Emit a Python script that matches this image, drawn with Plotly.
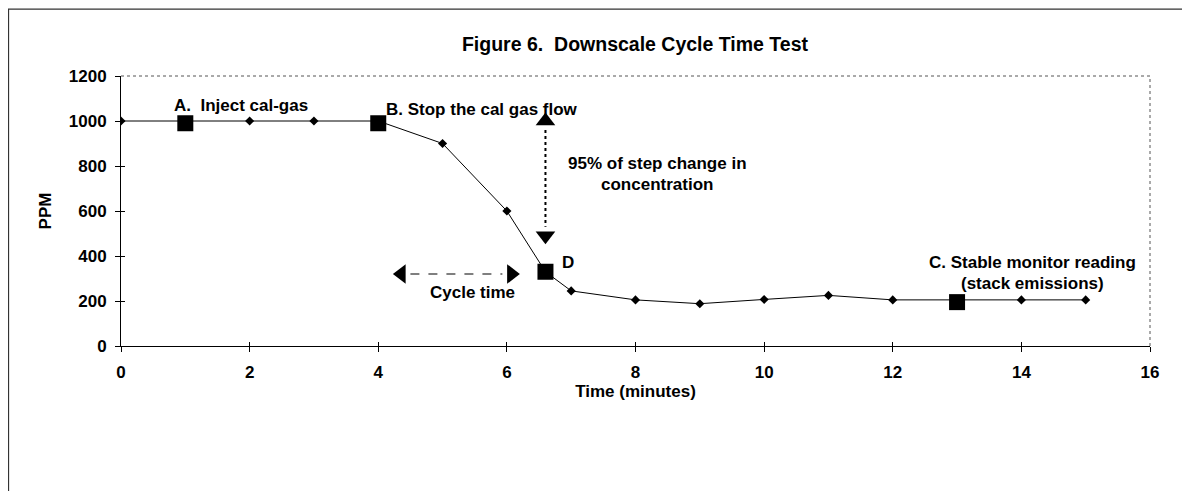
import plotly.graph_objects as go

# ---- data ----
time_min = [0, 1, 2, 3, 4, 5, 6, 6.6, 7, 8, 9, 10, 11, 12, 13, 14, 15]
ppm = [1000, 1000, 1000, 1000, 1000, 900, 600, 330, 245, 205, 188, 207, 225, 205, 205, 205, 205]

key_time = [1, 4, 6.6, 13]
key_ppm = [990, 990, 330, 195]

x_ticks = [0, 2, 4, 6, 8, 10, 12, 14, 16]
y_ticks = [0, 200, 400, 600, 800, 1000, 1200]

FONT = "Liberation Sans, Arial, sans-serif"

fig = go.Figure()

# main curve
fig.add_trace(go.Scatter(
    x=time_min, y=ppm, mode="lines+markers",
    line=dict(color="black", width=1),
    marker=dict(symbol="diamond", size=7, color="black"),
    showlegend=False, hoverinfo="x+y"))

# key points A, B, D, C
fig.add_trace(go.Scatter(
    x=key_time, y=key_ppm, mode="markers",
    marker=dict(symbol="square", size=16, color="black"),
    showlegend=False, hoverinfo="x+y"))

# arrow heads (annotation graphics)
fig.add_trace(go.Scatter(
    x=[6.6, 6.6], y=[1000, 490], mode="markers",
    marker=dict(symbol=["triangle-up", "triangle-down"], size=17, color="black"),
    showlegend=False, hoverinfo="skip"))
fig.add_trace(go.Scatter(
    x=[4.36, 6.07], y=[320, 320], mode="markers",
    marker=dict(symbol=["triangle-left", "triangle-right"], size=17, color="black"),
    showlegend=False, hoverinfo="skip"))

# dummy trace for the inside-tick overlay axes
fig.add_trace(go.Scatter(x=[0], y=[0], xaxis="x2", yaxis="y2", mode="markers",
                         marker=dict(opacity=0), showlegend=False, hoverinfo="skip"))

shapes = [
    # vertical dotted line
    dict(type="line", xref="x", yref="y", x0=6.6, x1=6.6, y0=960, y1=530,
         line=dict(color="black", width=2, dash="dot")),
    # horizontal dashed line
    dict(type="line", xref="x", yref="y", x0=4.5, x1=5.93, y0=320, y1=320,
         line=dict(color="black", width=1.2, dash="dash")),
    # plot-area frame top and right (dotted gray)
    dict(type="line", xref="paper", yref="paper", x0=0, x1=1, y0=1, y1=1,
         line=dict(color="#555555", width=1, dash="dot")),
    dict(type="line", xref="paper", yref="paper", x0=1, x1=1, y0=0, y1=1,
         line=dict(color="#555555", width=1, dash="dot")),
    # outer chart border
    dict(type="rect", xref="paper", yref="paper", x0=-0.1093, x1=1.0321, y0=-0.8, y1=1.248,
         line=dict(color="#333333", width=1.2), fillcolor="rgba(0,0,0,0)", layer="below"),
]

tf = dict(family=FONT, size=17, color="black", weight="bold")
annotations = [
    dict(x=0.79, y=1071, xref="x", yref="y", text="A.  Inject cal-gas", showarrow=False,
         xanchor="left", yanchor="middle", font=tf),
    dict(x=4.09, y=1050, xref="x", yref="y", text="B. Stop the cal gas flow", showarrow=False,
         xanchor="left", yanchor="middle", font=tf),
    dict(x=8.34, y=813, xref="x", yref="y", text="95% of step change in", showarrow=False,
         xanchor="center", yanchor="middle", font=tf),
    dict(x=8.34, y=716, xref="x", yref="y", text="concentration", showarrow=False,
         xanchor="center", yanchor="middle", font=tf),
    dict(x=6.95, y=369, xref="x", yref="y", text="D", showarrow=False,
         xanchor="center", yanchor="middle", font=tf),
    dict(x=5.46, y=240, xref="x", yref="y", text="Cycle time", showarrow=False,
         xanchor="center", yanchor="middle", font=tf),
    dict(x=14.18, y=373, xref="x", yref="y", text="C. Stable monitor reading", showarrow=False,
         xanchor="center", yanchor="middle", font=tf),
    dict(x=14.18, y=280, xref="x", yref="y", text="(stack emissions)", showarrow=False,
         xanchor="center", yanchor="middle", font=tf),
]

fig.update_layout(
    width=1190, height=491,
    margin=dict(l=113, r=48, t=68, b=153, autoexpand=False),
    paper_bgcolor="white", plot_bgcolor="white",
    font=dict(family=FONT, size=17, color="black"),
    title=dict(text="<b>Figure 6.  Downscale Cycle Time Test</b>",
               x=627 / 1190, xanchor="center", y=1 - 36 / 491, yanchor="middle",
               font=dict(family=FONT, size=19.5, color="black")),
    xaxis=dict(range=[0, 16], tickvals=x_ticks, ticktext=[str(v) for v in x_ticks],
               showgrid=False, zeroline=False, showline=True, linecolor="black", linewidth=1,
               ticks="outside", ticklen=5, tickcolor="black", ticklabelstandoff=6,
               tickfont=tf,
               title=dict(text="<b>Time (minutes)</b>", standoff=1,
                          font=dict(family=FONT, size=17, color="black"))),
    yaxis=dict(range=[0, 1200], tickvals=y_ticks, ticktext=[str(v) for v in y_ticks],
               showgrid=False, zeroline=False, showline=True, linecolor="black", linewidth=1,
               ticks="outside", ticklen=5, tickcolor="black", ticklabelstandoff=5,
               tickfont=tf,
               title=dict(text="<b>PPM</b>", standoff=12,
                          font=dict(family=FONT, size=17, color="black"))),
    xaxis2=dict(overlaying="x", anchor="y2", range=[0, 16], tickvals=x_ticks, showticklabels=False,
                ticks="inside", ticklen=4, tickcolor="black", showgrid=False, zeroline=False,
                showline=False),
    yaxis2=dict(overlaying="y", anchor="x2", range=[0, 1200], tickvals=y_ticks, showticklabels=False,
                ticks="inside", ticklen=4, tickcolor="black", showgrid=False, zeroline=False,
                showline=False),
    shapes=shapes,
    annotations=annotations,
)

fig.write_html("out.html")
